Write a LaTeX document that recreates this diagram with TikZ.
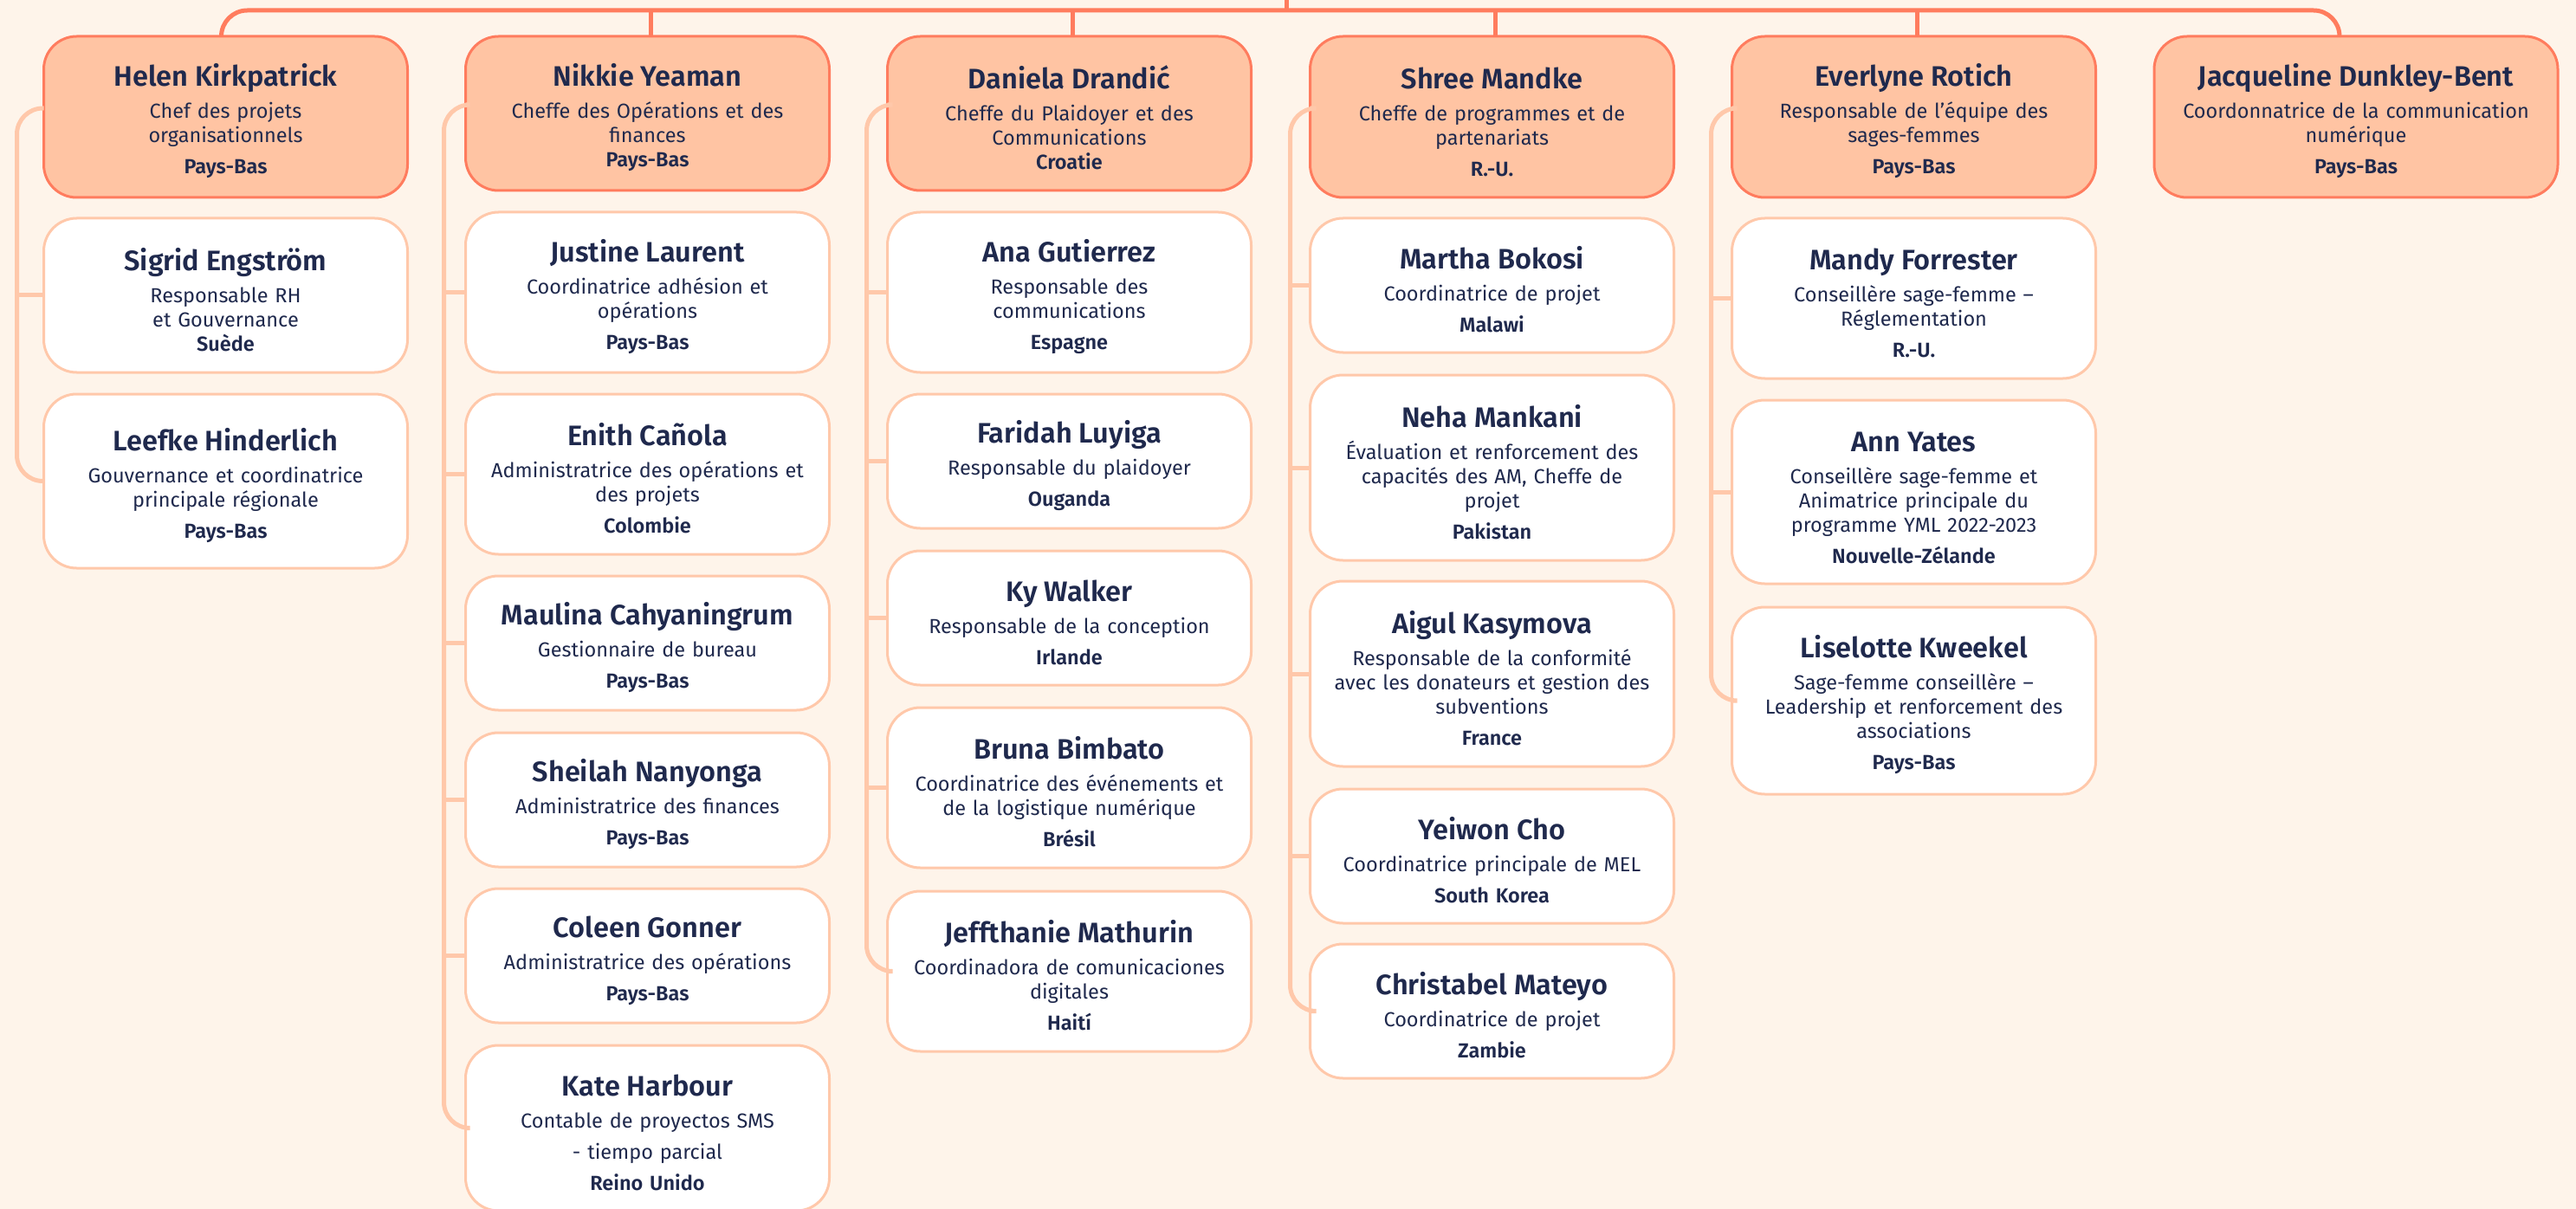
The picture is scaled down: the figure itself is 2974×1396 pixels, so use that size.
\documentclass[tikz,border=0pt]{standalone}
\usepackage{fontspec}
\setmainfont{Fira Sans}
\newfontfamily\namefont{Fira Sans SemiBold}
\usetikzlibrary{positioning}
\definecolor{cream}{RGB}{254,244,234}
\definecolor{peach}{RGB}{255,196,163}
\definecolor{coral}{RGB}{255,124,94}
\definecolor{blush}{RGB}{255,200,170}
\definecolor{ink}{RGB}{31,41,77}
\newcommand{\who}[1]{{\fontsize{32.5}{34}\selectfont\namefont\rule{0pt}{36pt}#1}}
\newcommand{\where}[1]{{\namefont #1}}

\begin{document}
\begin{tikzpicture}[x=1pt, y=1pt,
  card/.style={rounded corners=38pt, line width=3pt, text width=400pt, align=center,
    minimum width=420pt, inner sep=0pt, outer sep=0pt, text=ink, anchor=north,
    font={\fontsize{23.5}{28}\selectfont\lineskiplimit=-50pt\relax}},
  lead/.style={card, draw=coral, fill=peach},
  staff/.style={card, draw=blush, fill=white},
  oneline/.style={minimum height=155pt},
  twoline/.style={minimum height=185pt},
  threeline/.style={minimum height=214pt},
  boss/.style={draw=coral, line width=5pt, rounded corners=30pt},
  branch/.style={draw=blush, line width=5pt, rounded corners=30pt},
  node distance=25pt]
\path[use as bounding box, fill=cream] (0,0) rectangle (2974,-1396);

% heads
\node[lead, minimum height=186pt] (helen) at (260.5,-42) {\who{Helen Kirkpatrick}\\[9pt] Chef des projets\\ organisationnels\\[8pt] \where{Pays-Bas}};
\node[lead, minimum height=178pt] (nikkie) at (747.5,-42) {\who{Nikkie Yeaman}\\[9pt] Cheffe des Opérations et des\\ finances\\ \where{Pays-Bas}};
\node[lead, minimum height=178pt] (daniela) at (1234.5,-42) {\who{Daniela Drandić}\\[9pt] Cheffe du Plaidoyer et des\\ Communications\\ \where{Croatie}};
\node[lead, minimum height=186pt] (shree) at (1722.5,-42) {\who{Shree Mandke}\\[9pt] Cheffe de programmes et de\\ partenariats\\[8pt] \where{R.-U.}};
\node[lead, minimum height=186pt] (everlyne) at (2209.5,-42) {\who{Everlyne Rotich}\\[9pt] Responsable de l’équipe des\\ sages-femmes\\[8pt] \where{Pays-Bas}};
\node[lead, minimum height=186pt, minimum width=466pt, text width=446pt] (jacqueline) at (2720,-42) {\who{Jacqueline Dunkley-Bent}\\[9pt] Coordonnatrice de la communication\\ numérique\\[8pt] \where{Pays-Bas}};

% column 1
\node[staff, minimum height=178pt, below=24pt of helen] (sigrid) {\who{Sigrid Engström}\\[9pt] Responsable RH\\ et Gouvernance\\ \where{Suède}};
\node[staff, minimum height=201pt, below=of sigrid] (leefke) {\who{Leefke Hinderlich}\\[9pt] Gouvernance et coordinatrice\\ principale régionale\\[8pt] \where{Pays-Bas}};

% column 2
\node[staff, twoline, below=of nikkie] (justine) {\who{Justine Laurent}\\[9pt] Coordinatrice adhésion et\\ opérations\\[8pt] \where{Pays-Bas}};
\node[staff, twoline, below=of justine] (enith) {\who{Enith Cañola}\\[9pt] Administratrice des opérations et\\ des projets\\[8pt] \where{Colombie}};
\node[staff, oneline, below=of enith] (maulina) {\who{Maulina Cahyaningrum}\\[9pt] Gestionnaire de bureau\\[8pt] \where{Pays-Bas}};
\node[staff, oneline, below=26pt of maulina] (sheilah) {\who{Sheilah Nanyonga}\\[9pt] Administratrice des finances\\[8pt] \where{Pays-Bas}};
\node[staff, oneline, below=of sheilah] (coleen) {\who{Coleen Gonner}\\[9pt] Administratrice des opérations\\[8pt] \where{Pays-Bas}};
\node[staff, minimum height=191pt, below=26pt of coleen] (kate) {\who{Kate Harbour}\\[9pt] Contable de proyectos SMS\\[8pt] - tiempo parcial\\[8pt] \where{Reino Unido}};

% column 3
\node[staff, twoline, below=of daniela] (ana) {\who{Ana Gutierrez}\\[9pt] Responsable des\\ communications\\[8pt] \where{Espagne}};
\node[staff, oneline, below=of ana] (faridah) {\who{Faridah Luyiga}\\[9pt] Responsable du plaidoyer\\[8pt] \where{Ouganda}};
\node[staff, oneline, below=26pt of faridah] (ky) {\who{Ky Walker}\\[9pt] Responsable de la conception\\[8pt] \where{Irlande}};
\node[staff, twoline, below=26pt of ky] (bruna) {\who{Bruna Bimbato}\\[9pt] Coordinatrice des événements et\\ de la logistique numérique\\[8pt] \where{Brésil}};
\node[staff, twoline, below=27pt of bruna] (jeff) {\who{Jeffthanie Mathurin}\\[9pt] Coordinadora de comunicaciones\\ digitales\\[8pt] \where{Haití}};

% column 4
\node[staff, oneline, below=24pt of shree] (martha) {\who{Martha Bokosi}\\[9pt] Coordinatrice de projet\\[8pt] \where{Malawi}};
\node[staff, threeline, below=26pt of martha] (neha) {\who{Neha Mankani}\\[9pt] Évaluation et renforcement des\\ capacités des AM, Cheffe de\\ projet\\[8pt] \where{Pakistan}};
\node[staff, threeline, below=24pt of neha] (aigul) {\who{Aigul Kasymova}\\[9pt] Responsable de la conformité\\ avec les donateurs et gestion des\\ subventions\\[8pt] \where{France}};
\node[staff, oneline, below=26pt of aigul] (yeiwon) {\who{Yeiwon Cho}\\[9pt] Coordinatrice principale de MEL\\[8pt] \where{South Korea}};
\node[staff, oneline, below=24pt of yeiwon] (christabel) {\who{Christabel Mateyo}\\[9pt] Coordinatrice de projet\\[8pt] \where{Zambie}};

% column 5
\node[staff, twoline, below=24pt of everlyne] (mandy) {\who{Mandy Forrester}\\[9pt] Conseillère sage-femme –\\ Réglementation\\[8pt] \where{R.-U.}};
\node[staff, minimum height=212pt, below=of mandy] (ann) {\who{Ann Yates}\\[9pt] Conseillère sage-femme et\\ Animatrice principale du\\ programme YML 2022-2023\\[8pt] \where{Nouvelle-Zélande}};
\node[staff, minimum height=216pt, below=27pt of ann] (liselotte) {\who{Liselotte Kweekel}\\[9pt] Sage-femme conseillère –\\ Leadership et renforcement des\\ associations\\[8pt] \where{Pays-Bas}};

% top level
\coordinate (ceo) at (1485,0);
\coordinate (bar) at (1485,-12);
\draw[boss] ([xshift=-5pt]helen.north) |- (bar) -| ([xshift=-19pt]jacqueline.north);
\draw[boss] (ceo) -- (bar);
\foreach \h in {nikkie,daniela,shree,everlyne}
  \draw[boss] ([xshift=4pt]\h.north) -- ([xshift=4pt]\h.north |- bar);

% branches
\draw[branch] ([yshift=10pt]helen.west) -- ++(-31,0) |- (leefke.west);
\draw[branch] (sigrid.west) -- ++(-31,0);
\draw[branch] ([yshift=10pt]nikkie.west) -- ++(-25,0) |- (kate.west);
\foreach \s in {justine,enith,maulina,sheilah,coleen}
  \draw[branch] (\s.west) -- ++(-25,0);
\draw[branch] ([yshift=10pt]daniela.west) -- ++(-24,0) |- (jeff.west);
\foreach \s in {ana,faridah,ky,bruna}
  \draw[branch] (\s.west) -- ++(-24,0);
\draw[branch] ([yshift=10pt]shree.west) -- ++(-23,0) |- (christabel.west);
\foreach \s in {martha,neha,aigul,yeiwon}
  \draw[branch] (\s.west) -- ++(-23,0);
\draw[branch] ([yshift=10pt]everlyne.west) -- ++(-24,0) |- (liselotte.west);
\foreach \s in {mandy,ann}
  \draw[branch] (\s.west) -- ++(-24,0);
\end{tikzpicture}
\end{document}
